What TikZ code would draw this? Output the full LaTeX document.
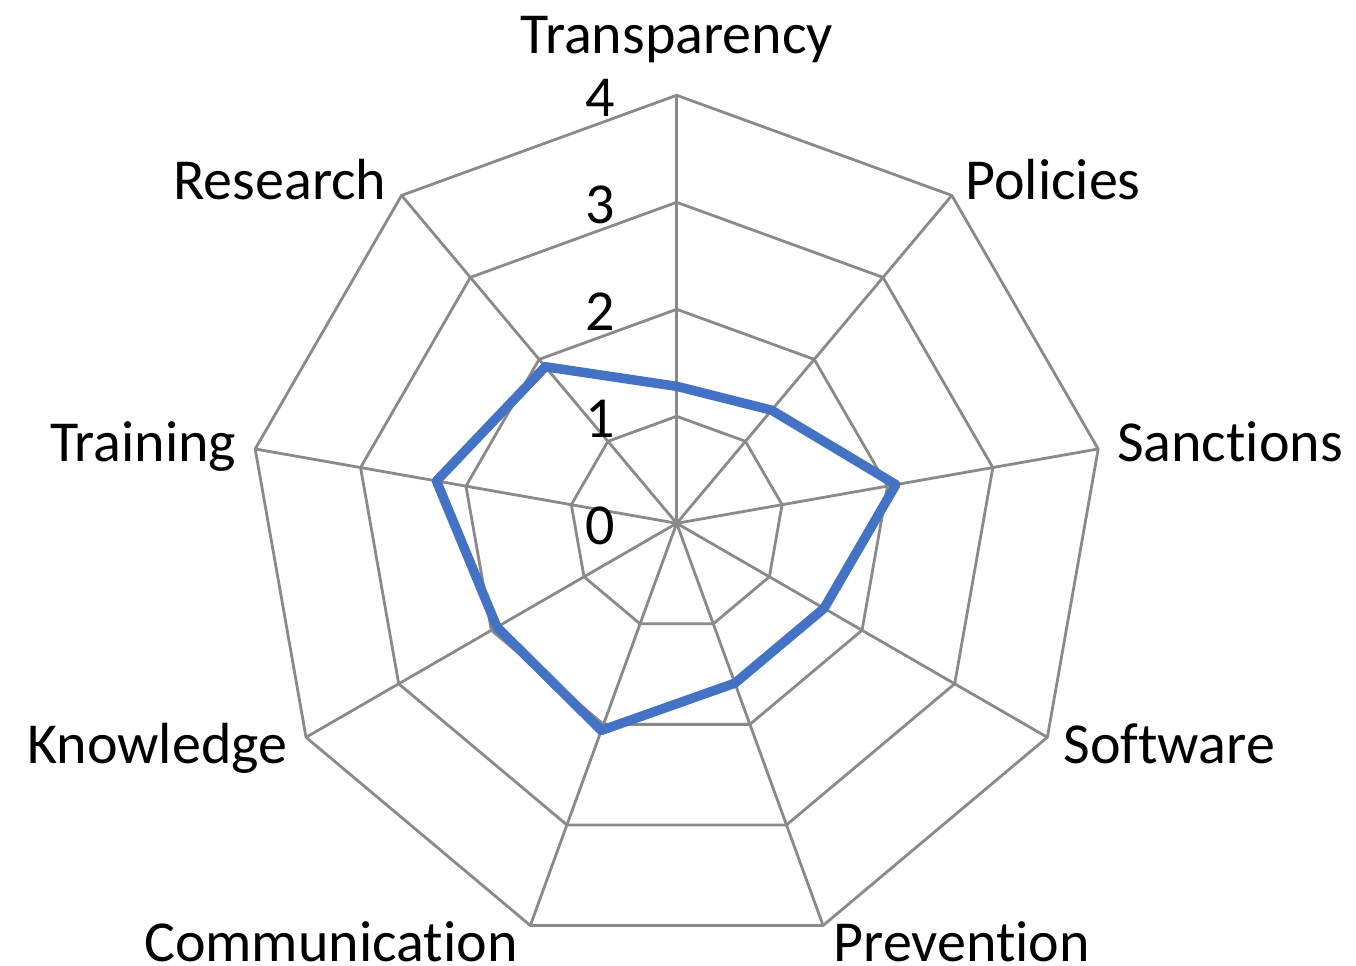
\documentclass[tikz,border=0pt]{standalone}
\usepackage{fontspec}
\setmainfont{Carlito}[Ligatures=NoCommon]
\usepackage{xcolor}
\usepackage{tikz}
\usetikzlibrary{calc}
\definecolor{gridgray}{HTML}{8A8A8A}
\definecolor{series}{HTML}{4472C4}
\tikzset{
  web/.style={draw=gridgray, line width=1.6pt, line join=round},
  spoke/.style={draw=gridgray, line width=1.6pt},
  data/.style={draw=series, line width=5.4pt, line join=round, line cap=round},
  axlab/.style={inner sep=0pt, font=\fontsize{33}{39}\selectfont},
  ticklab/.style={inner sep=0pt, anchor=base east, font=\fontsize{33}{39}\selectfont},
}
\begin{document}
\begin{tikzpicture}
  \def\u{2.14}
  \useasboundingbox (-13.534,-8.854) rectangle (13.586,10.466);
  \coordinate (O) at (0,0);

  % rings 1..4
  \foreach \k in {1,...,4}{
    \draw[web] (90:\k*\u) \foreach \a in {50,10,...,-230}{ -- (\a:\k*\u) } -- cycle;
  }

  % spokes
  \foreach \a/\n in {90/tra,50/pol,10/san,-30/sof,-70/pre,-110/com,-150/kno,170/trn,130/res}{
    \coordinate (\n) at (\a:4*\u);
    \draw[spoke] (O) -- (\n);
  }

  % scale
  \foreach \k in {0,...,4}
    \node[ticklab] (t\k) at (-1.234,{-0.434+\k*\u}) {\k};

  % series
  \foreach \a/\v/\n in {90/1.28/tra,50/1.38/pol,10/2.08/san,-30/1.59/sof,-70/1.59/pre,
                        -110/2.06/com,-150/1.94/kno,170/2.28/trn,130/1.91/res}
    \coordinate (d\n) at (\a:\v*\u);
  \draw[data] (dtra) -- (dpol) -- (dsan) -- (dsof) -- (dpre) -- (dcom) -- (dkno) -- (dtrn) -- (dres) -- cycle;

  % axis labels
  \node[axlab,anchor=base] (Ltra) at (0,9.39) {Transparency};
  \node[axlab,anchor=base west] (Lpol) at (5.766,6.48) {Policies};
  \node[axlab,anchor=base west] (Lsan) at (8.8,1.232) {Sanctions};
  \node[axlab,anchor=base west] (Lsof) at (7.732,-4.81) {Software};
  \node[axlab,anchor=base west] (Lpre) at (3.132,-8.76) {Prevention};
  \node[axlab,anchor=base east] (Lcom) at (-3.174,-8.76) {Communication};
  \node[axlab,anchor=base east] (Lkno) at (-7.784,-4.81) {Knowledge};
  \node[axlab,anchor=base east] (Ltrn) at (-8.8,1.232) {Training};
  \node[axlab,anchor=base east] (Lres) at (-5.8,6.48) {Research};
\end{tikzpicture}
\end{document}
